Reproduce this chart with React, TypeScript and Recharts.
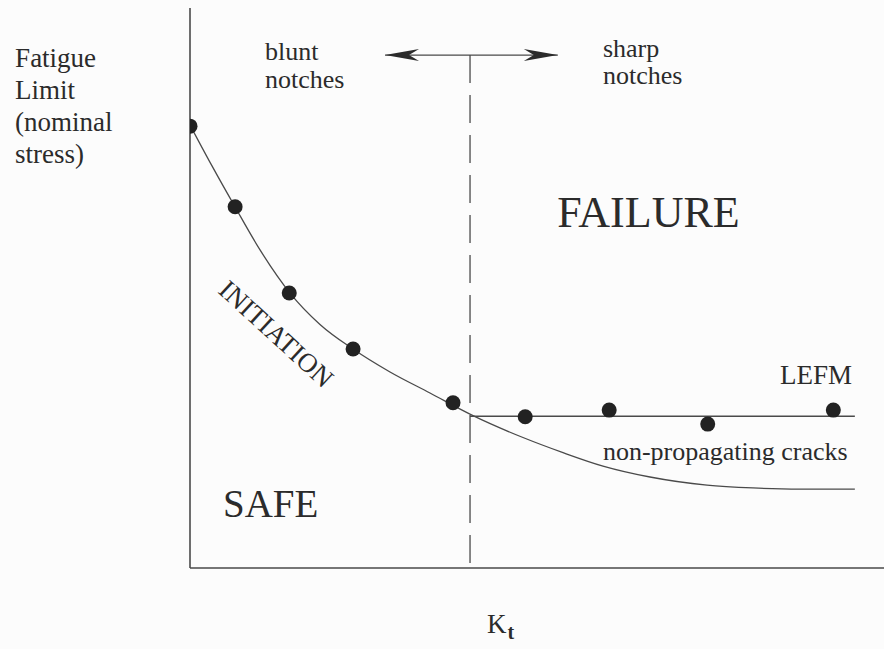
import React from "react";
import {
  ComposedChart, Line, Scatter, XAxis, YAxis, ReferenceLine, ReferenceDot,
} from "recharts";

// test results: fatigue limit (nominal stress) against Kt
const testKt = [0, 6.5, 14.3, 23.5, 37.9, 48.3, 60.4, 74.6, 92.7];
const testLimit = [78.9, 64.5, 49.1, 39.1, 29.5, 27.0, 28.2, 25.7, 28.2];

// crack initiation curve
const initKt = [0, 3.17, 6.48, 10.09, 14.41, 18.73, 23.49, 28.82, 34.58, 40.63, 47.98, 53.75, 59.51, 66.28, 74.5, 81.1, 87.9, 95.8];
const initLimit = [79.1, 71.8, 64.5, 56.8, 49.1, 43.5, 39.1, 35.0, 31.25, 27.3, 23.3, 20.6, 18.2, 16.25, 14.8, 14.3, 14.1, 14.1];

// LEFM threshold for sharp notches
const lefmKt = [40.35, 95.8];
const lefmLimit = [27.1, 27.1];

// blunt / sharp divide and the arrow above it
const dividerKt = 40.35;
const arrowKt = [28.1, 53.0];
const arrowLevel = 91.6;

const toRows = (xs: number[], ys: number[]) => xs.map((kt, i) => ({ kt, limit: ys[i] }));

const testRows = toRows(testKt, testLimit);
const initRows = toRows(initKt, initLimit);
const lefmRows = toRows(lefmKt, lefmLimit);

const INK = "#2b2b2b";
const LINE = "#4a4a4a";
const SERIF = '"Liberation Serif", "Times New Roman", serif';

function note(
  key: string, kt: number, level: number, lines: string[],
  size: number, extra: { rotate?: number; gap?: number } = {},
) {
  return (
    <ReferenceDot
      key={key}
      x={kt}
      y={level}
      ifOverflow="visible"
      shape={(p: any) => (
        <text
          x={p.cx}
          y={p.cy}
          fill={INK}
          fontSize={size}
          fontFamily={SERIF}
          transform={extra.rotate ? `rotate(${extra.rotate} ${p.cx} ${p.cy})` : undefined}
        >
          {lines.map((t, i) => (
            <tspan key={i} x={p.cx} dy={i === 0 ? 0 : extra.gap ?? size * 1.1}>{t}</tspan>
          ))}
        </text>
      )}
    />
  );
}

function arrowHead(key: string, kt: number, dir: 1 | -1) {
  return (
    <ReferenceDot
      key={key}
      x={kt}
      y={arrowLevel}
      ifOverflow="visible"
      shape={(p: any) => {
        const { cx, cy } = p;
        const pts = [
          [cx, cy],
          [cx - dir * 34, cy - 6],
          [cx - dir * 24, cy],
          [cx - dir * 34, cy + 6],
        ].map((q) => q.join(",")).join(" ");
        return <polygon points={pts} fill={INK} />;
      }}
    />
  );
}

export default function App() {
  return (
    <div style={{ position: "absolute", left: 0, top: 0, width: 884, height: 649, background: "#fcfcfc" }}>
      <ComposedChart width={884} height={649} margin={{ top: 8, right: 0, bottom: 81, left: 190 }}>
        <XAxis type="number" dataKey="kt" domain={[0, 100]} allowDataOverflow hide />
        <YAxis type="number" dataKey="limit" domain={[0, 100]} allowDataOverflow hide />

        <ReferenceLine x={0} stroke={LINE} strokeWidth={1.6} ifOverflow="visible" />
        <ReferenceLine y={0} stroke={LINE} strokeWidth={1.6} ifOverflow="visible" />

        <ReferenceLine
          segment={[{ x: dividerKt, y: arrowLevel }, { x: dividerKt, y: 0 }]}
          stroke={LINE}
          strokeWidth={1.3}
          strokeDasharray="28 12"
          ifOverflow="visible"
        />
        <ReferenceLine
          segment={[{ x: arrowKt[0], y: arrowLevel }, { x: arrowKt[1], y: arrowLevel }]}
          stroke={LINE}
          strokeWidth={1.3}
          ifOverflow="visible"
        />
        {arrowHead("al", arrowKt[0], -1)}
        {arrowHead("ar", arrowKt[1], 1)}

        <Line data={initRows} dataKey="limit" type="monotone" stroke={LINE} strokeWidth={1.3}
          dot={false} isAnimationActive={false} />
        <Line data={lefmRows} dataKey="limit" type="linear" stroke={LINE} strokeWidth={1.3}
          dot={false} isAnimationActive={false} />
        <Scatter data={testRows} dataKey="limit" isAnimationActive={false}
          shape={(p: any) => <circle cx={p.cx} cy={p.cy} r={7.5} fill="#222" />} />

        {note("ylab", -25.2, 89.5, ["Fatigue", "Limit", "(nominal", "stress)"], 27, { gap: 32 })}
        {note("blunt", 10.8, 90.7, ["blunt", "notches"], 26, { gap: 28 })}
        {note("sharp", 59.5, 91.25, ["sharp", "notches"], 26, { gap: 27 })}
        {note("fail", 52.9, 60.9, ["FAILURE"], 44)}
        {note("safe", 4.75, 9.1, ["SAFE"], 39)}
        {note("init", 3.9, 49.3, ["INITIATION"], 27, { rotate: 42.5 })}
        {note("lefm", 85.0, 32.9, ["LEFM"], 27)}
        {note("npc", 59.5, 19.3, ["non-propagating cracks"], 26)}

        <ReferenceDot
          x={42.8}
          y={-11.6}
          ifOverflow="visible"
          shape={(p: any) => (
            <text x={p.cx} y={p.cy} fill={INK} fontFamily={SERIF}>
              <tspan fontSize={27}>K</tspan>
              <tspan fontSize={20} fontWeight="bold" dx={1} dy={6}>t</tspan>
            </text>
          )}
        />
      </ComposedChart>
    </div>
  );
}
